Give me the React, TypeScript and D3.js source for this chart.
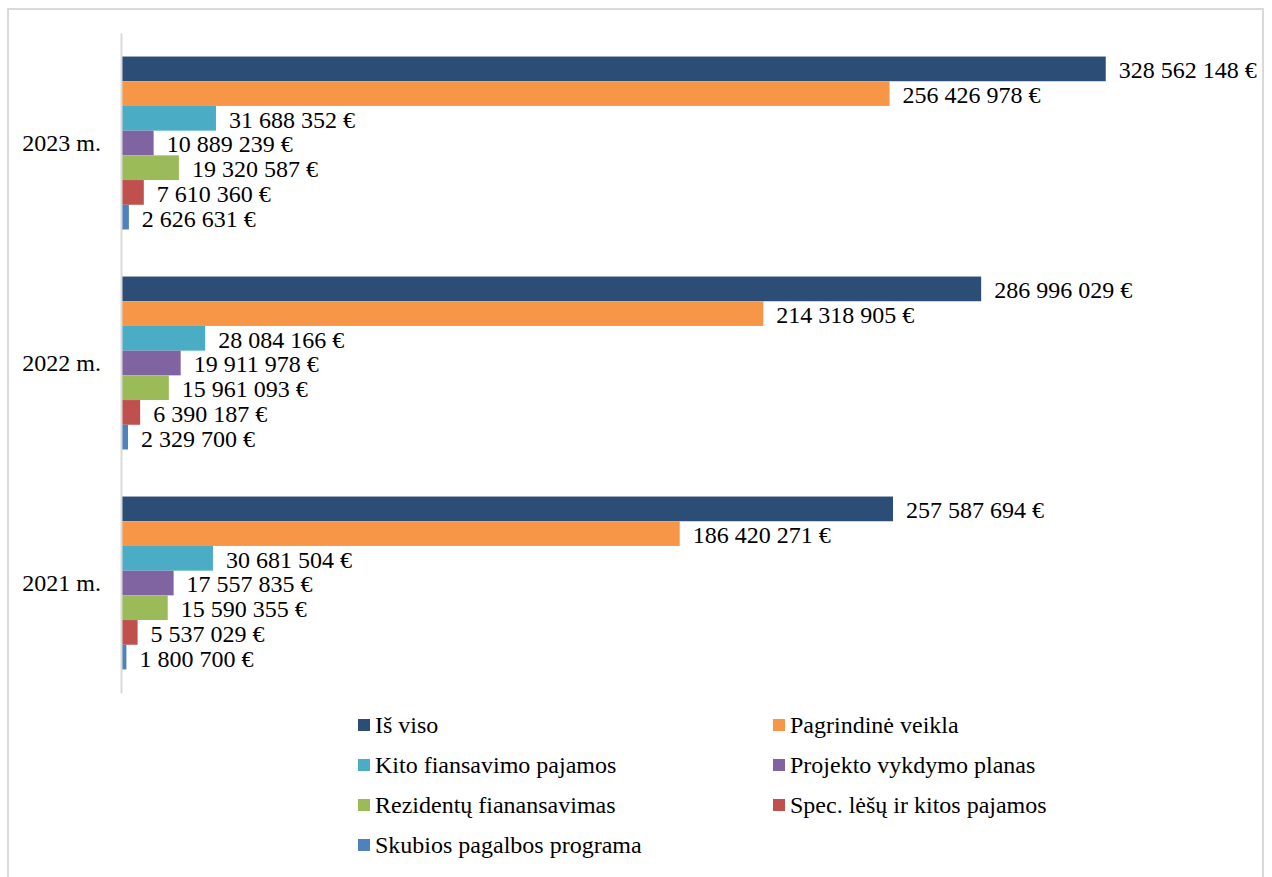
import { useEffect, useRef } from 'react';
import * as d3 from 'd3';

const categories = ['2023 m.', '2022 m.', '2021 m.'];
const seriesNames = [
  'Iš viso',
  'Pagrindinė veikla',
  'Kito fiansavimo pajamos',
  'Projekto vykdymo planas',
  'Rezidentų fianansavimas',
  'Spec. lėšų ir kitos pajamos',
  'Skubios pagalbos programa',
];
const seriesColors = ['#2C4D75', '#F79646', '#4BACC6', '#8064A2', '#9BBB59', '#C0504D', '#4F81BD'];

// values per series, in category order (2023, 2022, 2021)
const isViso = [328562148, 286996029, 257587694];
const pagrindine = [256426978, 214318905, 186420271];
const kitoFinansavimo = [31688352, 28084166, 30681504];
const projekto = [10889239, 19911978, 17557835];
const rezidentu = [19320587, 15961093, 15590355];
const specLesu = [7610360, 6390187, 5537029];
const skubios = [2626631, 2329700, 1800700];

const seriesValues = [isViso, pagrindine, kitoFinansavimo, projekto, rezidentu, specLesu, skubios];

const W = 1272;
const H = 877;
const FONT = '"Liberation Serif", "Times New Roman", serif';
const FS = 24;

export default function App() {
  const svgRef = useRef<SVGSVGElement>(null);

  useEffect(() => {
    if (!svgRef.current) return;
    const svg = d3.select(svgRef.current);
    svg.selectAll('*').remove();

    // outer frame
    svg.append('rect')
      .attr('x', 8).attr('y', 9)
      .attr('width', 1255).attr('height', 900)
      .attr('fill', '#fff')
      .attr('stroke', '#D9D9D9')
      .attr('stroke-width', 2);

    const x = d3.scaleLinear().domain([0, 350000000]).range([121, 1170]);
    const y = d3.scaleBand<string>()
      .domain(categories)
      .range([33, 693])
      .paddingInner(0.214)
      .paddingOuter(0.107);
    const ySub = d3.scaleBand<number>()
      .domain(d3.range(seriesNames.length))
      .range([0, y.bandwidth()]);

    const fmt = (v: number) => d3.format(',')(v).replace(/,/g, ' ') + ' €';

    const g = svg.append('g');

    categories.forEach((cat, ci) => {
      const y0 = y(cat)!;
      seriesValues.forEach((vals, si) => {
        const v = vals[ci];
        const by = y0 + ySub(si)!;
        g.append('rect')
          .attr('x', x(0))
          .attr('y', by)
          .attr('width', x(v) - x(0))
          .attr('height', ySub.bandwidth())
          .attr('fill', seriesColors[si]);
        g.append('text')
          .attr('x', x(v) + 13)
          .attr('y', by + ySub.bandwidth() / 2 + 1)
          .attr('dy', '0.35em')
          .attr('font-family', FONT)
          .attr('font-size', FS)
          .attr('fill', '#000')
          .text(fmt(v));
      });
    });

    // category axis
    const axis = d3.axisLeft(y).tickSize(0).tickPadding(20);
    const ax = svg.append('g')
      .attr('transform', `translate(${x(0)},0)`)
      .call(axis);
    ax.select('.domain').attr('stroke', '#D9D9D9').attr('stroke-width', 2);
    ax.selectAll('text')
      .attr('font-family', FONT)
      .attr('font-size', FS)
      .attr('fill', '#000');

    // legend
    const colX = [358, 773];
    const rowY = [725, 765, 805, 845];
    seriesNames.forEach((name, i) => {
      const lx = colX[i % 2];
      const ly = rowY[Math.floor(i / 2)];
      const lg = svg.append('g').attr('transform', `translate(${lx},${ly})`);
      lg.append('rect')
        .attr('x', 0).attr('y', -6)
        .attr('width', 12).attr('height', 12)
        .attr('fill', seriesColors[i]);
      lg.append('text')
        .attr('x', 17)
        .attr('y', 0)
        .attr('dy', '0.35em')
        .attr('font-family', FONT)
        .attr('font-size', FS)
        .attr('fill', '#000')
        .text(name);
    });
  }, []);

  return (
    <div style={{ position: 'absolute', left: 0, top: 0, width: W, height: H, background: '#fff' }}>
      <svg ref={svgRef} width={W} height={H} style={{ display: 'block' }} />
    </div>
  );
}
